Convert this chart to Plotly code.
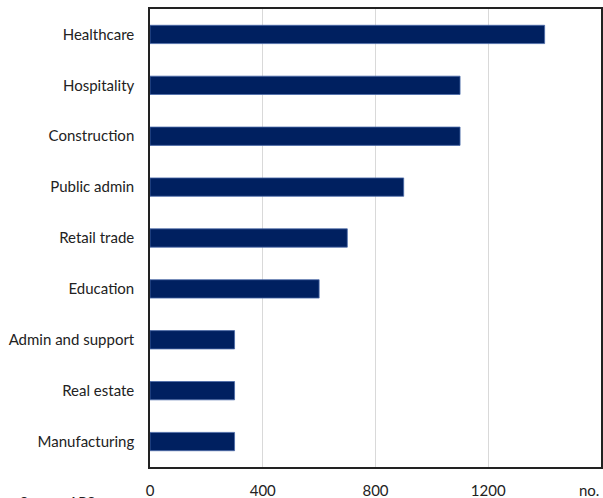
import plotly.graph_objects as go

industries = ["Healthcare", "Hospitality", "Construction", "Public admin", "Retail trade",
              "Education", "Admin and support", "Real estate", "Manufacturing"]
values = [1400, 1100, 1100, 900, 700, 600, 300, 300, 300]
tick_vals = [0, 400, 800, 1200]
tick_text = ["0", "400", "800", "1200"]

fig = go.Figure(go.Bar(
    x=values, y=industries, orientation="h", width=0.36,
    marker=dict(color="#002060", line=dict(color="#4a6aa8", width=0.8)),
))

fig.update_layout(
    width=603, height=498,
    margin=dict(l=150, r=2, t=9, b=31, autoexpand=False),
    paper_bgcolor="white", plot_bgcolor="white",
    font=dict(family="Lato", size=15, color="#222222"),
    showlegend=False,
)
fig.update_xaxes(
    range=[0, 1600], tickvals=tick_vals, ticktext=tick_text,
    showgrid=True, gridcolor="#d9d9d9", gridwidth=1,
    showline=True, linecolor="#222222", linewidth=1.5, mirror=True,
    ticks="", ticklabelstandoff=9, zeroline=False,
)
fig.update_yaxes(
    categoryorder="array", categoryarray=industries[::-1],
    showline=True, linecolor="#222222", linewidth=1.5, mirror=True,
    ticks="", ticklabelstandoff=11, showgrid=False,
)
fig.add_annotation(text="no.", xref="paper", yref="paper", x=1, y=0,
                   xanchor="right", yanchor="top", yshift=-12, showarrow=False,
                   font=dict(family="Lato", size=15, color="#222222"))
fig.add_annotation(text="Source: ABS", xref="paper", yref="paper", x=-150/451, y=0,
                   xanchor="left", yanchor="top", xshift=18, yshift=-24, showarrow=False,
                   font=dict(family="Lato", size=14, color="#222222"))

fig.write_html("out.html", config={"displayModeBar": False},
               post_script="document.body.style.margin='0';document.body.style.overflow='hidden';")
